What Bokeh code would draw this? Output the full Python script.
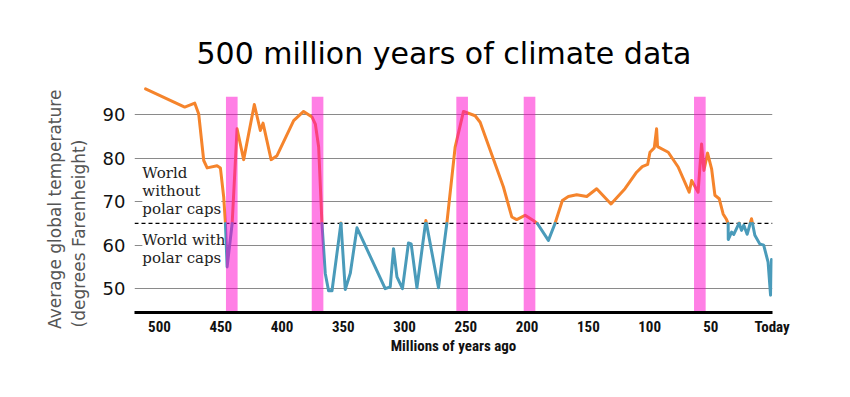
from bokeh.plotting import figure
from bokeh.models import Span, Label, Range1d, FixedTicker
from bokeh.embed import file_html
from bokeh.resources import INLINE

# ---- data ----
myr = [511.4, 479.4, 471.2, 468.0, 463.9, 461.1, 453.0, 450.3, 447.6, 446.2,
       444.8, 440.7, 436.7, 431.3, 422.6, 417.7, 415.5, 408.9, 404.1, 390.5,
       382.4, 375.5, 372.8, 370.1, 367.4, 364.7, 362.0, 359.2, 351.9, 348.4,
       344.3, 338.8, 315.8, 311.7, 309.0, 306.2, 301.7, 296.8, 294.6, 289.9,
       282.6, 272.3, 265.5, 258.7, 251.9, 242.4, 238.3, 219.3, 212.5, 208.4,
       201.6, 194.9, 191.6, 182.6, 177.2, 171.2, 166.3, 159.5, 151.3, 143.2,
       131.5, 120.1, 110.6, 106.0, 101.6, 99.7, 96.2, 94.3, 93.5, 87.5,
       84.8, 76.7, 67.7, 65.7, 63.0, 60.4, 57.6, 55.7, 52.7, 49.4,
       46.7, 43.2, 40.0, 37.2, 35.9, 35.8, 33.1, 31.3, 26.9, 25.0,
       23.1, 20.4, 16.8, 14.1, 10.1, 6.9, 3.3, 1.3, 0.5]
temp = [96.0, 91.8, 92.7, 90.2, 79.5, 77.8, 78.3, 77.8, 71.1, 65.0,
        55.0, 65.0, 86.8, 79.7, 92.4, 86.4, 88.1, 79.7, 80.6, 88.7,
        90.8, 89.5, 87.9, 82.6, 65.0, 53.5, 49.5, 49.5, 65.1, 49.8,
        53.5, 64.0, 50.0, 50.4, 59.2, 52.7, 50.0, 60.5, 60.3, 50.2,
        65.7, 50.2, 65.0, 82.6, 90.8, 89.8, 88.3, 73.4, 66.5, 65.9,
        66.9, 65.7, 65.0, 61.1, 65.0, 70.3, 71.2, 71.6, 71.2, 73.0,
        69.5, 73.0, 76.8, 78.1, 78.6, 81.4, 82.4, 86.8, 82.7, 81.8,
        81.4, 78.0, 72.2, 74.9, 73.5, 72.2, 83.3, 77.2, 81.2, 77.6,
        71.5, 70.7, 67.2, 65.9, 65.0, 61.3, 63.0, 62.5, 65.1, 63.4,
        64.6, 62.5, 66.1, 62.3, 60.3, 60.0, 56.1, 48.5, 56.7]
polar_threshold = 65
extinctions_myr = [441, 371, 253, 198, 59]
x_ticks = [500, 450, 400, 350, 300, 250, 200, 150, 100, 50, 0]
y_ticks = [50, 60, 70, 80, 90]
y_label_lines = ["Average global temperature", "(degrees Farenheight)"]

# ---- styles ----
ORANGE = "#f5842c"
BLUE = "#4a9bba"
PINK = "#ff00cc"
BAR_W = 9.5
NB = "\u00a0"
# trailing no-break spaces so both rotated lines start at the same height
y_label_text = y_label_lines[0] + NB * 4 + "\n" + y_label_lines[1] + NB * 13


def split_by_threshold(xs, ys, thr):
    above, below = [], []
    cx, cy = [xs[0]], [ys[0]]
    cur = ys[0] >= thr
    for i in range(1, len(xs)):
        x0, y0, x1, y1 = xs[i - 1], ys[i - 1], xs[i], ys[i]
        now = y1 >= thr
        if now != cur:
            t = (thr - y0) / (y1 - y0)
            xc = x0 + t * (x1 - x0)
            cx.append(xc); cy.append(thr)
            (above if cur else below).append((cx, cy))
            cx, cy = [xc], [thr]
            cur = now
        cx.append(x1); cy.append(y1)
    (above if cur else below).append((cx, cy))
    return above, below


p = figure(width=834, height=380,
           x_range=Range1d(520.4, -0.3), y_range=Range1d(44.5, 97),
           output_backend="svg", toolbar_location=None,
           min_border_left=134, min_border_right=62,
           min_border_top=84, min_border_bottom=68,
           title="500 million years of climate data")
p.outline_line_color = None
p.title.text_font = "DejaVu Sans"
p.title.text_font_size = "30px"
p.title.text_font_style = "normal"
p.title.text_color = "black"
p.title.align = "left"
p.title.offset = 62
p.title.standoff = 27

p.xgrid.visible = False
p.ygrid.ticker = FixedTicker(ticks=y_ticks)
p.ygrid.grid_line_color = "#8a8a8a"
p.ygrid.grid_line_width = 1

# y axis
p.yaxis.ticker = FixedTicker(ticks=y_ticks)
p.yaxis.axis_line_color = None
p.yaxis.major_tick_line_color = None
p.yaxis.minor_tick_line_color = None
p.yaxis.major_label_text_font = "DejaVu Sans"
p.yaxis.major_label_text_font_size = "18px"
p.yaxis.major_label_text_color = "#111111"
p.yaxis.major_label_standoff = 3
p.yaxis.axis_label = y_label_text
p.yaxis.axis_label_text_font = "DejaVu Sans"
p.yaxis.axis_label_text_font_size = "17px"
p.yaxis.axis_label_text_font_style = "normal"
p.yaxis.axis_label_text_color = "#555555"
p.yaxis.axis_label_text_line_height = 1.2
p.yaxis.axis_label_standoff = 11

# x axis
p.xaxis.ticker = FixedTicker(ticks=x_ticks)
p.xaxis.major_label_overrides = {0: "Today"}
p.xaxis.axis_line_color = "black"
p.xaxis.axis_line_width = 3
p.xaxis.major_tick_line_color = None
p.xaxis.minor_tick_line_color = None
p.xaxis.major_label_text_font = "Roboto Condensed, Liberation Sans Narrow, Roboto"
p.xaxis.major_label_text_font_style = "bold"
p.xaxis.major_label_text_font_size = "15px"
p.xaxis.major_label_text_color = "#111111"
p.xaxis.major_label_standoff = -1
p.xaxis.axis_label = "Millions of years ago"
p.xaxis.axis_label_text_font = "Roboto Condensed, Liberation Sans Narrow, Roboto"
p.xaxis.axis_label_text_font_style = "bold"
p.xaxis.axis_label_text_font_size = "15px"
p.xaxis.axis_label_text_color = "#111111"
p.xaxis.axis_label_standoff = -2

# threshold line
p.add_layout(Span(location=polar_threshold, dimension="width", line_color="black",
                  line_width=1.2, line_dash="4 3", level="underlay"))

# region labels
p.add_layout(Label(x=514, y=78.6, text="World\nwithout\npolar caps", text_baseline="top",
                   text_font="DejaVu Serif", text_font_size="15px", text_color="#222222",
                   text_line_height=1.0,
                   background_fill_color="white", level="underlay"))
p.add_layout(Label(x=514, y=63.2, text="World with\npolar caps", text_baseline="top",
                   text_font="DejaVu Serif", text_font_size="15px", text_color="#222222",
                   text_line_height=1.0,
                   background_fill_color="white", level="underlay"))

# temperature line, coloured by threshold
above, below = split_by_threshold(myr, temp, polar_threshold)
p.multi_line([s[0] for s in above], [s[1] for s in above], line_color=ORANGE,
             line_width=3, line_join="round", line_cap="round")
p.multi_line([s[0] for s in below], [s[1] for s in below], line_color=BLUE,
             line_width=3, line_join="round", line_cap="round")

# mass-extinction bars
p.quad(left=[m + BAR_W / 2 for m in extinctions_myr],
       right=[m - BAR_W / 2 for m in extinctions_myr],
       bottom=44.5, top=94.2, fill_color=PINK, fill_alpha=0.5, line_color=None)

open("out.html", "w").write(file_html(p, INLINE))
